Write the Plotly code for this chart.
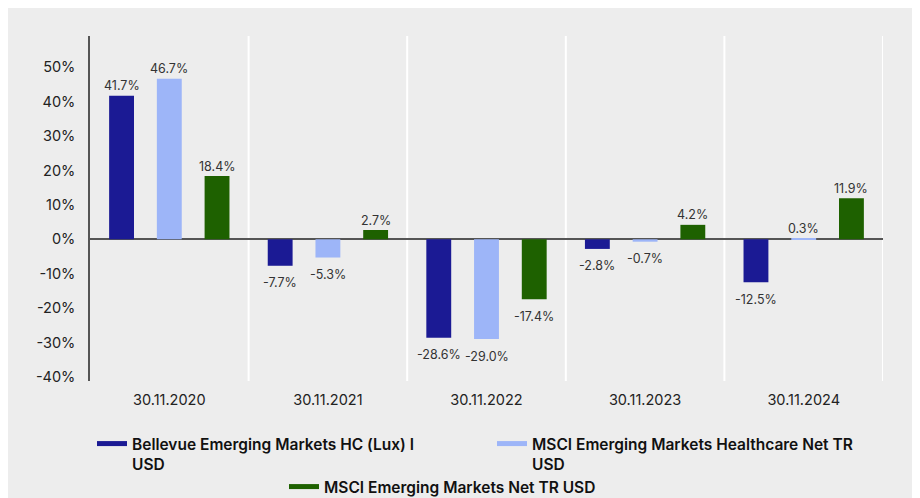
import plotly.graph_objects as go

categories = ["30.11.2020", "30.11.2021", "30.11.2022", "30.11.2023", "30.11.2024"]
fund = [41.7, -7.7, -28.6, -2.8, -12.5]
msci_hc = [46.7, -5.3, -29.0, -0.7, 0.3]
msci_em = [18.4, 2.7, -17.4, 4.2, 11.9]
series_names = [
    "Bellevue Emerging Markets HC (Lux) I<br>USD",
    "MSCI Emerging Markets Healthcare Net TR<br>USD",
    "MSCI Emerging Markets Net TR USD",
]
colors = ["#1b1a94", "#9db5f8", "#1e6100"]
y_ticks = [-40, -30, -20, -10, 0, 10, 20, 30, 40, 50]
y_tick_labels = ["-40%", "-30%", "-20%", "-10%", "0%", "10%", "20%", "30%", "40%", "50%"]

W, H = 908, 490
L, R, T, B = 82, 33, 28, 117
BG = "#ededed"
BARGAP = 0.097
pw = W - L - R
slot = (1 - BARGAP) * pw / len(categories) / 3

fig = go.Figure()
annotations = []
for si, (vals, col) in enumerate(zip([fund, msci_hc, msci_em], colors)):
    fig.add_trace(go.Bar(
        x=categories, y=vals, marker=dict(color=col, line=dict(width=0)),
        showlegend=False, hoverinfo="skip",
    ))
    for c, v in zip(categories, vals):
        annotations.append(dict(
            x=c, y=v, xref="x", yref="y", text=f"{v:.1f}%", showarrow=False,
            xshift=(si - 1) * slot, yshift=10 if v >= 0 else -17,
            font=dict(family="Inter", size=12.5, color="#333333"),
        ))

legend_keys = ["legend", "legend2", "legend3"]
for name, col, lk in zip(series_names, colors, legend_keys):
    fig.add_trace(go.Scatter(
        x=[None], y=[None], mode="lines", line=dict(color=col, width=5),
        name=name, legend=lk,
    ))

shapes = []
for k in range(len(categories)):
    shapes.append(dict(type="line", xref="x", yref="paper", x0=k + 0.5, x1=k + 0.5,
                       y0=0, y1=1, line=dict(color="white", width=2), layer="below"))

legend_font = dict(family="Inter", size=15.5, color="#111111", weight=600)


def leg(x_px, y_px):
    return dict(orientation="h", xref="container", yref="container",
                x=x_px / W, y=1 - y_px / H, xanchor="left", yanchor="top",
                valign="top", bgcolor="rgba(0,0,0,0)", font=legend_font)


fig.update_layout(
    width=W, height=H,
    margin=dict(l=L, r=R, t=T, b=B, autoexpand=False),
    paper_bgcolor=BG, plot_bgcolor=BG,
    barmode="group", bargap=BARGAP, bargroupgap=0.479,
    shapes=shapes, annotations=annotations,
    font=dict(family="Inter", color="#222222"),
    xaxis=dict(range=[-0.5, 4.5], showgrid=False, showline=False, ticks="",
               tickfont=dict(family="Inter", size=14.5, color="#222222"),
               ticklabelstandoff=8),
    yaxis=dict(range=[-41.2, 59.1], tickvals=y_ticks, ticktext=y_tick_labels,
               showgrid=False, showline=True, linecolor="#555555", linewidth=1.5,
               zeroline=True, zerolinecolor="#555555", zerolinewidth=1.5,
               ticks="", ticklabelstandoff=10,
               tickfont=dict(family="Inter", size=14.5, color="#222222")),
    legend=leg(84, 419),
    legend2=leg(484, 419),
    legend3=leg(276, 462),
)

fig.write_html("out.html")
